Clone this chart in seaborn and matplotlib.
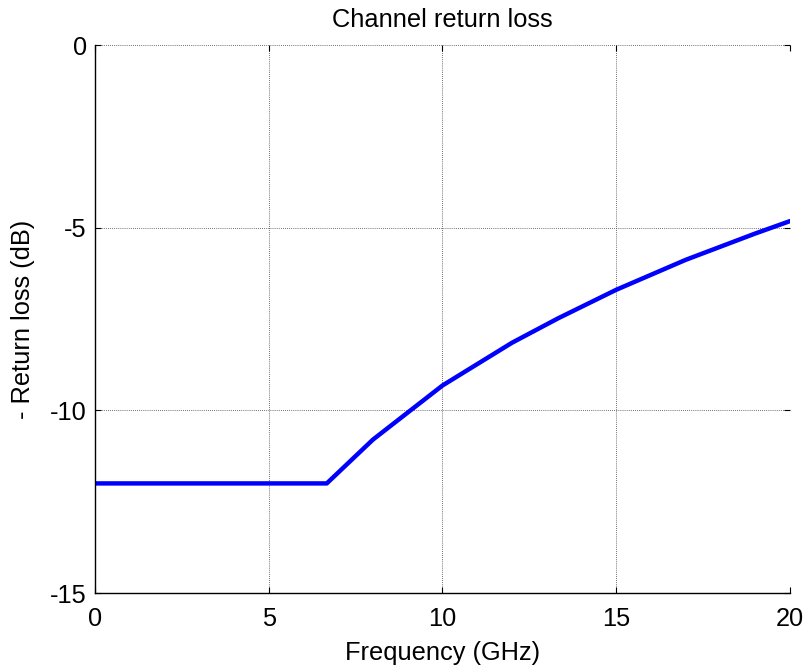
import matplotlib
matplotlib.use("Agg")
import matplotlib.pyplot as plt
import seaborn as sns
import pandas as pd

# Return-loss mask samples
freq_ghz = [0, 6.67, 8, 10, 12, 13.33, 15, 17, 19, 20]
neg_return_loss_db = [-12, -12, -10.8, -9.32, -8.15, -7.48, -6.7, -5.88, -5.16, -4.82]

x_ticks = [0, 5, 10, 15, 20]
y_ticks = [-15, -10, -5, 0]

sns.set_theme(style="white")
plt.rcParams["font.family"] = ["Liberation Sans", "DejaVu Sans"]

df = pd.DataFrame({"Frequency (GHz)": freq_ghz, "RL": neg_return_loss_db})

fig = plt.figure(figsize=(8.07, 6.66), dpi=100)
ax = fig.add_axes([0.1177, 0.1096, 0.8612, 0.8228])

sns.lineplot(data=df, x="Frequency (GHz)", y="RL", ax=ax, color="#0000ff",
             linewidth=3.2, sort=False)

ax.set_xlim(0, 20)
ax.set_ylim(-15, 0)
ax.set_xticks(x_ticks)
ax.set_yticks(y_ticks)
ax.set_xticklabels([str(t) for t in x_ticks])
ax.set_yticklabels([str(t) for t in y_ticks])

ax.grid(True, color="#404040", linestyle=(0, (1, 1.5)), linewidth=0.6)
for side in ("top", "right"):
    ax.spines[side].set_visible(False)
for side in ("left", "bottom"):
    ax.spines[side].set_color("black")
    ax.spines[side].set_linewidth(1.0)

fs = 18.3
ax.tick_params(axis="both", direction="in", length=4.5, width=0.8, colors="black",
               labelsize=fs, left=True, bottom=True, top=True, right=True,
               labeltop=False, labelright=False)
ax.tick_params(axis="x", pad=10)
ax.tick_params(axis="y", pad=6)

ax.set_title("Channel return loss", fontsize=fs, color="black", pad=13)
ax.set_xlabel("Frequency (GHz)", fontsize=fs, color="black", labelpad=7)
ax.set_ylabel("- Return loss (dB)", fontsize=fs, color="black", labelpad=11)

fig.savefig("out.png", dpi=100, facecolor="white")
